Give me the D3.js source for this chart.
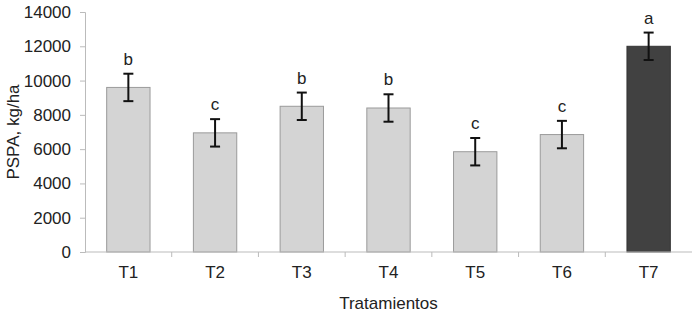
<!DOCTYPE html>
<html>
<head>
<meta charset="utf-8">
<script src="https://cdn.jsdelivr.net/npm/d3@7"></script>
<style>
  body { margin: 0; background: #fff; }
  text { font-family: Arial, "Liberation Sans", sans-serif; }
</style>
</head>
<body>
<div id="chart"></div>
<script>
var categories = ["T1", "T2", "T3", "T4", "T5", "T6", "T7"];
var values = [9600, 6950, 8500, 8400, 5850, 6850, 12000];
var errors = [800, 800, 800, 800, 800, 800, 800];
var letters = ["b", "c", "b", "b", "c", "c", "a"];
var yTicks = [0, 2000, 4000, 6000, 8000, 10000, 12000, 14000];

const width = 698, height = 316;
const margin = { left: 85, right: 6, top: 12, bottom: 64 };
const fs = "17px";

const svg = d3.select("#chart").append("svg")
    .attr("width", width)
    .attr("height", height);

const x = d3.scaleBand()
    .domain(categories)
    .range([margin.left, width - margin.right])
    .paddingInner(0.5)
    .paddingOuter(0.25);

const y = d3.scaleLinear()
    .domain([0, 14000])
    .range([height - margin.bottom, margin.top]);

// y axis
const yAxis = svg.append("g")
    .attr("transform", `translate(${margin.left},0)`)
    .call(d3.axisLeft(y).tickValues(yTicks).tickFormat(d3.format("d")).tickSize(5).tickPadding(9));
yAxis.selectAll("path, line").attr("stroke", "#bbb");
yAxis.selectAll("text").attr("font-size", fs).attr("fill", "#222")
    .style("font-family", "Arial, 'Liberation Sans', sans-serif");

// bars
svg.selectAll("rect.bar")
    .data(values)
    .join("rect")
    .attr("class", "bar")
    .attr("x", (d, i) => x(categories[i]))
    .attr("y", d => y(d))
    .attr("width", x.bandwidth())
    .attr("height", d => y(0) - y(d))
    .attr("fill", (d, i) => i === 6 ? "#414141" : "#d4d4d4")
    .attr("stroke", (d, i) => i === 6 ? "#333" : "#9a9a9a")
    .attr("stroke-width", 1);

// x axis line + boundary ticks
const step = x.step();
svg.append("line")
    .attr("x1", margin.left).attr("x2", width - margin.right)
    .attr("y1", y(0)).attr("y2", y(0))
    .attr("stroke", "#bbb");
categories.slice(1).forEach(function (c) {
    var bx = x(c) - (step - x.bandwidth()) / 2;
    svg.append("line")
        .attr("x1", bx).attr("x2", bx)
        .attr("y1", y(0)).attr("y2", y(0) + 5)
        .attr("stroke", "#bbb");
});
svg.selectAll("text.xlab")
    .data(categories)
    .join("text")
    .attr("class", "xlab")
    .attr("x", d => x(d) + x.bandwidth() / 2)
    .attr("y", y(0) + 26)
    .attr("text-anchor", "middle")
    .attr("font-size", fs)
    .attr("fill", "#222")
    .text(d => d);

// error bars
const eb = svg.append("g").attr("stroke", "#111").attr("stroke-width", 2);
values.forEach(function (v, i) {
    var cx = x(categories[i]) + x.bandwidth() / 2;
    eb.append("line").attr("x1", cx).attr("x2", cx)
        .attr("y1", y(v + errors[i])).attr("y2", y(v - errors[i]));
    eb.append("line").attr("x1", cx - 5).attr("x2", cx + 5)
        .attr("y1", y(v + errors[i])).attr("y2", y(v + errors[i]));
    eb.append("line").attr("x1", cx - 5).attr("x2", cx + 5)
        .attr("y1", y(v - errors[i])).attr("y2", y(v - errors[i]));
});

// significance letters
svg.selectAll("text.sig")
    .data(letters)
    .join("text")
    .attr("class", "sig")
    .attr("x", (d, i) => x(categories[i]) + x.bandwidth() / 2)
    .attr("y", (d, i) => y(values[i] + errors[i]) - 9)
    .attr("text-anchor", "middle")
    .attr("font-size", fs)
    .attr("fill", "#222")
    .text(d => d);

// axis titles
svg.append("text")
    .attr("transform", `translate(19,${(y(0) + y(14000)) / 2}) rotate(-90)`)
    .attr("text-anchor", "middle")
    .attr("font-size", fs)
    .attr("fill", "#222")
    .text("PSPA, kg/ha");

svg.append("text")
    .attr("x", (margin.left + width - margin.right) / 2)
    .attr("y", 309)
    .attr("text-anchor", "middle")
    .attr("font-size", fs)
    .attr("fill", "#222")
    .text("Tratamientos");
</script>
</body>
</html>
